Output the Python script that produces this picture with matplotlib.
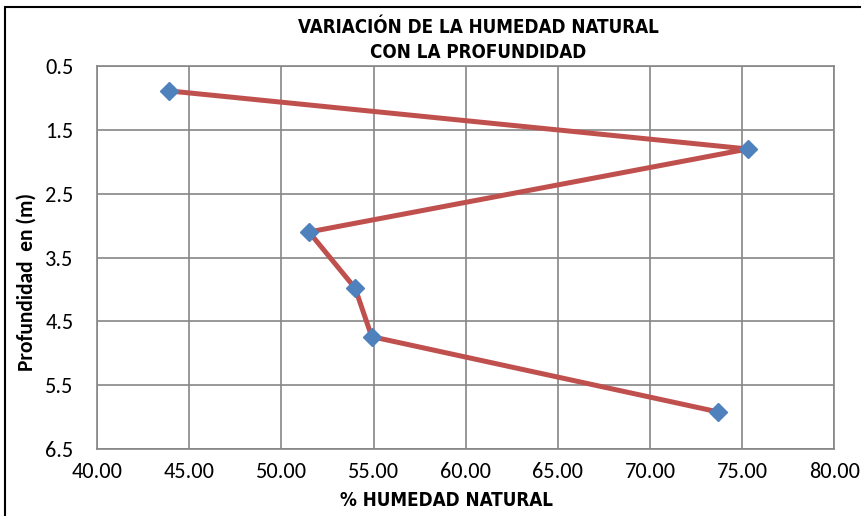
import matplotlib.pyplot as plt
import matplotlib.patches as mpatches
from matplotlib import font_manager

# moisture content (%) against sampling depth (m)
humedad = [43.9, 75.3, 51.5, 54.0, 54.9, 73.7]
profundidad = [0.89, 1.80, 3.10, 3.98, 4.74, 5.92]

x_ticks = [40, 45, 50, 55, 60, 65, 70, 75, 80]
y_ticks = [0.5, 1.5, 2.5, 3.5, 4.5, 5.5, 6.5]

titulo = "VARIACIÓN DE LA HUMEDAD NATURAL\nCON LA PROFUNDIDAD"
x_label = "% HUMEDAD NATURAL"
y_label = "Profundidad  en (m)"

names = {f.name for f in font_manager.fontManager.ttflist}
if "Carlito" in names:
    tick_font, tick_size, ylab_size = "Carlito", 16, 15.5
else:
    tick_font, tick_size, ylab_size = "Lato", 14.5, 13

fig = plt.figure(figsize=(8.62, 5.16), dpi=100)
ax = fig.add_axes([97 / 862, 1 - 449 / 516, (834.5 - 97) / 862, (449 - 66) / 516])

# outer chart frame
fig.patches.append(mpatches.Rectangle((5 / 862, -0.1), 1.1, 1 - 7 / 516 + 0.1,
                                      transform=fig.transFigure, fill=False,
                                      edgecolor="black", linewidth=1.5))

ax.plot(humedad, profundidad, color="#C0504D", linewidth=3.6, zorder=3)
ax.plot(humedad, profundidad, linestyle="none", marker="D", markersize=9.5,
        color="#4F81BD", zorder=4)

ax.set_xlim(40, 80)
ax.set_ylim(6.5, 0.5)
ax.set_xticks(x_ticks)
ax.set_xticklabels([f"{v:.2f}" for v in x_ticks], family=tick_font, fontsize=tick_size)
ax.set_yticks(y_ticks)
ax.set_yticklabels([f"{v}" for v in y_ticks], family=tick_font, fontsize=tick_size)
ax.tick_params(length=0)
ax.tick_params(axis="x", pad=9)
ax.tick_params(axis="y", pad=17)

ax.grid(True, color="#868686", linewidth=1.2)
ax.set_axisbelow(True)
for s in ax.spines.values():
    s.set_color("#868686")
    s.set_linewidth(1.2)

fig.text(478 / 862, 1 - 40 / 516, titulo, ha="center", va="center",
         family="DejaVu Sans", fontstretch="condensed", fontweight="bold",
         fontsize=13.5, linespacing=1.4)
fig.text(447 / 862, 1 - 500 / 516, x_label, ha="center", va="center",
         family="DejaVu Sans", fontstretch="condensed", fontweight="bold",
         fontsize=13.5)
fig.text(27 / 862, 1 - 282 / 516, y_label, ha="center", va="center",
         rotation=90, family=tick_font, fontweight="bold", fontsize=ylab_size)

fig.savefig("out.png", dpi=100)
